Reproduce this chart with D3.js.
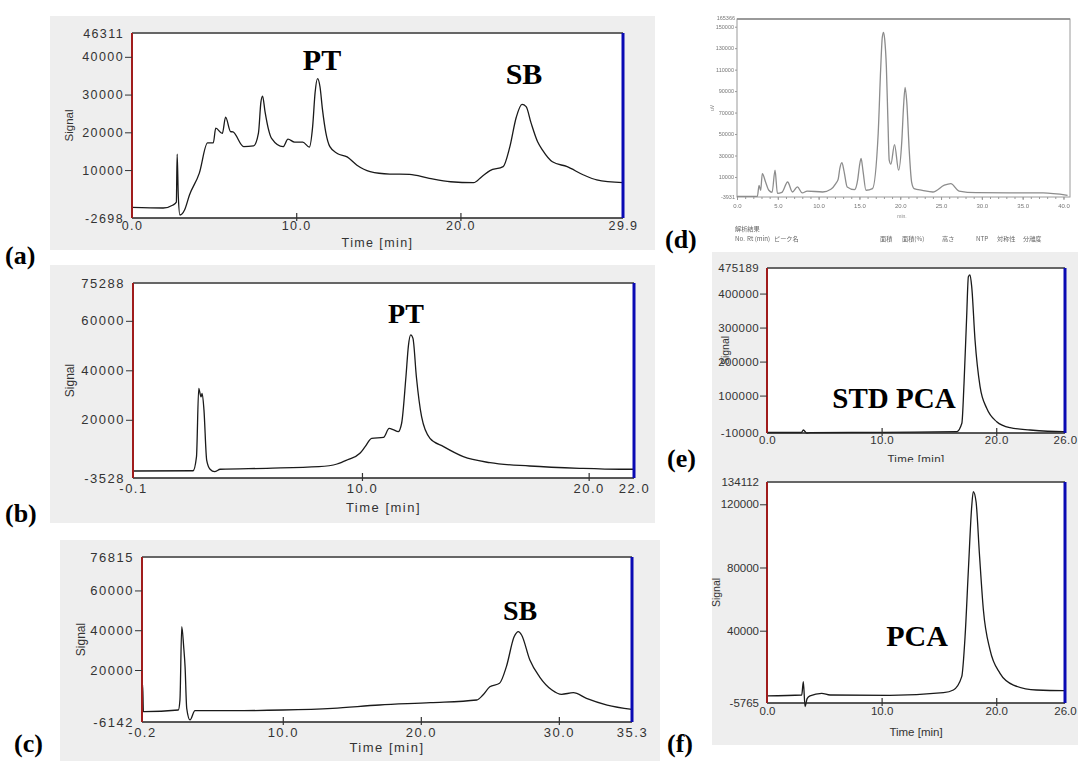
<!DOCTYPE html>
<html>
<head>
<meta charset="utf-8">
<script src="https://cdn.jsdelivr.net/npm/d3@7"></script>
<style>
body { margin: 0; background: #fff; }
svg { display: block; }
</style>
</head>
<body>
<script>
// values (time in min, signal in counts)
var aTime = [0, 1.9, 2.5, 2.7, 2.75, 2.82, 2.92, 3.2, 3.5, 4.1, 4.6, 4.95, 5.1, 5.5, 5.7, 6.0, 6.15, 6.8, 7.4, 7.7, 7.85, 7.95, 8.1, 8.3, 8.5, 9.2, 9.5, 9.9, 10.4, 10.8, 11.0, 11.15, 11.3, 11.45, 11.6, 11.8, 12.05, 12.5, 13.1, 13.7, 14.5, 15.7, 16.9, 18.1, 19.4, 20.8, 21.3, 21.8, 22.6, 23.0, 23.4, 23.75, 24.0, 24.3, 24.7, 25.0, 25.6, 26.5, 27.5, 28.3, 29.9];
var aSignal = [100, -50, 750, 1500, 14200, 3000, -1900, -580, 3400, 9200, 17200, 17200, 21100, 19700, 24000, 20200, 20100, 16200, 16400, 19800, 28000, 29600, 25500, 21000, 18400, 16200, 18200, 17400, 17400, 16100, 21500, 30500, 34200, 32000, 26000, 20000, 16200, 14400, 13500, 11300, 9600, 8950, 8850, 7800, 6900, 6650, 8250, 9850, 10900, 16000, 24000, 27400, 26800, 22500, 17500, 15300, 12200, 10900, 8700, 7400, 6650];

var bTime = [-0.1, 2.55, 2.7, 2.8, 2.9, 2.95, 3.03, 3.15, 3.3, 3.5, 3.75, 5.8, 8.1, 8.9, 9.34, 9.91, 10.14, 10.43, 10.95, 11.2, 11.4, 11.6, 11.75, 11.94, 12.05, 12.15, 12.25, 12.4, 12.63, 13.0, 13.6, 14.47, 15.65, 17.4, 19.6, 21.4, 22.0];
var bSignal = [-700, -600, 5000, 32700, 29300, 30700, 24000, 3700, 0, -980, 0, 400, 1040, 2130, 3750, 6450, 9140, 12500, 12900, 16500, 15900, 15200, 18600, 37400, 50000, 54300, 52900, 37400, 21250, 12500, 9140, 5100, 2670, 1320, 390, 0, 0];

var cTime = [-0.2, -0.15, -0.1, -0.05, 2.43, 2.55, 2.68, 2.82, 2.92, 3.04, 3.28, 3.64, 6.4, 10.0, 13.6, 17.0, 20.7, 24.05, 24.5, 25.0, 25.7, 26.2, 26.76, 27.07, 27.3, 27.9, 28.6, 29.5, 30.2, 31.05, 32.0, 33.5, 35.3];
var cSignal = [-960, 12500, -900, -960, -110, 5000, 41800, 31700, 21700, 750, -5100, -460, -460, -110, 750, 2400, 3560, 4920, 7430, 11600, 13300, 21700, 36700, 39300, 37600, 25000, 16600, 9950, 7780, 8590, 5770, 2400, 240];

var dTime = [0, 2.5, 2.7, 2.9, 3.1, 3.5, 3.9, 4.3, 4.66, 4.95, 5.5, 6.2, 6.8, 7.4, 8.0, 8.6, 10.5, 11.5, 12.1, 12.4, 12.6, 12.85, 13.1, 13.5, 14.4, 14.8, 15.0, 15.2, 15.45, 15.8, 16.6, 17.3, 17.6, 17.8, 17.95, 18.1, 18.3, 18.5, 18.65, 18.85, 19.3, 19.8, 20.2, 20.4, 20.6, 20.8, 21.1, 21.4, 21.7, 22.7, 24.0, 25.4, 26.2, 27.2, 29.3, 37.5, 40.5];
var dSignal = [-8000, -8000, 2250, -2400, 13200, 5300, -2400, -4300, 16250, -5200, -4300, 5300, -4000, 700, -4900, -3100, -4000, -1500, 3800, 8000, 18000, 23400, 16000, 700, -1800, 8000, 20000, 27200, 15000, -2400, -800, 50800, 110000, 140000, 144800, 138000, 112700, 60000, 25600, 21900, 40200, 16300, 44300, 75000, 93400, 80000, 34900, 5000, -800, -2400, -4000, 2300, 3800, -3100, -4600, -4900, -7100];

var eTime = [0, 3.0, 3.17, 3.46, 3.75, 10, 16.55, 17.0, 17.19, 17.42, 17.57, 17.71, 17.86, 18.15, 18.59, 19.17, 20.04, 21.2, 22.95, 25.85, 26.0];
var eSignal = [-8500, -8500, -1200, -10000, -9000, -8000, -6200, 18500, 136000, 332000, 449700, 454700, 420300, 263500, 126200, 62600, 23200, 5600, -1200, -6200, -6200];

var fTime = [0, 3.03, 3.17, 3.32, 3.5, 3.75, 4.77, 5.5, 10.7, 15.4, 16.26, 16.99, 17.28, 17.57, 17.86, 18.0, 18.24, 18.53, 18.88, 19.46, 20.33, 21.5, 23.5, 25.85, 26.0];
var fSignal = [-1300, -700, 7700, -8000, -3000, -1300, 370, -700, -900, 750, 2460, 10900, 36200, 78400, 118500, 128000, 121600, 89000, 53100, 27800, 13000, 5600, 2460, 2040, 2040];

// tick values and labels
var aXTicks = [0, 10, 20, 29.9], aXLabels = ["0.0", "10.0", "20.0", "29.9"];
var aYTicks = [10000, 20000, 30000, 40000];
var bXTicks = [-0.1, 10, 20, 22], bXLabels = ["-0.1", "10.0", "20.0", "22.0"];
var bYTicks = [20000, 40000, 60000];
var cXTicks = [-0.2, 10, 20, 30, 35.3], cXLabels = ["-0.2", "10.0", "20.0", "30.0", "35.3"];
var cYTicks = [20000, 40000, 60000];
var dXTicks = [0, 5, 10, 15, 20, 25, 30, 35, 40];
var dYTicks = [10000, 30000, 50000, 70000, 90000, 110000, 130000, 150000];
var eXTicks = [0, 10, 20, 26], eXLabels = ["0.0", "10.0", "20.0", "26.0"];
var eYTicks = [100000, 200000, 300000, 400000];
var fXTicks = [0, 10, 20, 26], fXLabels = ["0.0", "10.0", "20.0", "26.0"];
var fYTicks = [40000, 80000, 120000];

var svg = d3.select("body").append("svg").attr("width", 1078).attr("height", 761);

function chrom(c) {
	var g = svg.append("g");
	var p = c.plot; // left, top, right, bottom

	g.append("rect").attr("x", c.box[0]).attr("y", c.box[1])
		.attr("width", c.box[2]).attr("height", c.box[3]).attr("fill", "#eeeeee");

	var x = d3.scaleLinear().domain(c.xDomain).range([p[0], p[2]]);
	var y = d3.scaleLinear().domain(c.yDomain).range([p[3], p[1]]);

	g.append("rect").attr("x", p[0]).attr("y", p[1])
		.attr("width", p[2] - p[0]).attr("height", p[3] - p[1]).attr("fill", "#fff");

	var line = d3.line().x(function (d) { return x(d[0]); }).y(function (d) { return y(d[1]); })
		.curve(d3.curveMonotoneX);
	g.append("path").datum(d3.zip(c.time, c.signal))
		.attr("d", line).attr("fill", "none").attr("stroke", "#1a1a1a").attr("stroke-width", 1.3);

	// frame
	g.append("line").attr("x1", p[0]).attr("x2", p[2]).attr("y1", p[1]).attr("y2", p[1])
		.attr("stroke", "#666").attr("stroke-width", 2);
	g.append("line").attr("x1", p[0]).attr("x2", p[2]).attr("y1", p[3]).attr("y2", p[3])
		.attr("stroke", "#222").attr("stroke-width", 1.6);
	g.append("line").attr("x1", p[0]).attr("x2", p[0]).attr("y1", p[1]).attr("y2", p[3])
		.attr("stroke", "#a01c1c").attr("stroke-width", 2);
	g.append("line").attr("x1", p[2]).attr("x2", p[2]).attr("y1", p[1]).attr("y2", p[3])
		.attr("stroke", "#0a0ab4").attr("stroke-width", 3);

	// y axis
	var yAx = g.append("g").attr("transform", "translate(" + p[0] + ",0)")
		.call(d3.axisLeft(y).tickValues(c.yTicks.concat(c.yDomain)).tickSize(7).tickPadding(1)
			.tickFormat(function (d) { return String(d); }));
	yAx.select(".domain").remove();
	yAx.selectAll(".tick line").attr("stroke", "#333")
		.filter(function (d) { return c.yDomain.indexOf(d) >= 0; }).remove();
	yAx.attr("font-family", "'Liberation Sans', Arial, sans-serif").attr("font-size", c.fs);
	yAx.selectAll("text").attr("fill", "#333").attr("letter-spacing", c.ls);

	// x axis
	var xAx = g.append("g").attr("transform", "translate(0," + p[3] + ")")
		.call(d3.axisBottom(x).tickValues(c.xTicks).tickSize(0).tickPadding(c.xPad)
			.tickFormat(function (d, i) { return c.xLabels[i]; }));
	xAx.select(".domain").remove();
	xAx.selectAll(".tick line").attr("stroke", "#333").attr("stroke-width", 1.2)
		.attr("y1", -5).attr("y2", 3)
		.filter(function (d, i) { return i === 0 || i === c.xTicks.length - 1; }).remove();
	xAx.attr("font-family", "'Liberation Sans', Arial, sans-serif").attr("font-size", c.fs);
	xAx.selectAll("text").attr("fill", "#333").attr("letter-spacing", c.ls);

	g.append("text").attr("x", (p[0] + p[2]) / 2).attr("y", c.timeY)
		.attr("text-anchor", "middle").attr("font-family", "'Liberation Sans', Arial, sans-serif")
		.attr("font-size", c.fs).attr("letter-spacing", c.ls).attr("fill", "#333").text("Time [min]");

	g.append("text").attr("transform", "translate(" + c.sigX + "," + (p[1] + p[3]) / 2 + ") rotate(-90)")
		.attr("text-anchor", "middle").attr("font-family", "'Liberation Sans', Arial, sans-serif")
		.attr("font-size", c.fs - 1).attr("fill", "#333").text("Signal");

	c.peaks.forEach(function (pk) {
		g.append("text").attr("x", x(pk[1])).attr("y", y(pk[2]))
			.attr("text-anchor", "middle").attr("font-family", "'Liberation Serif', 'Times New Roman', serif")
			.attr("font-weight", "bold").attr("font-size", c.peakSize).attr("fill", "#000").text(pk[0]);
	});
}

chrom({
	box: [50, 16, 605, 234], plot: [132, 33, 623, 218],
	xDomain: [0, 29.9], yDomain: [-2698, 46311],
	time: aTime, signal: aSignal, xTicks: aXTicks, xLabels: aXLabels, yTicks: aYTicks,
	fs: 12.5, ls: 1.4, xPad: 3, timeY: 247, sigX: 73, peakSize: 30,
	peaks: [["PT", 11.57, 36500], ["SB", 23.87, 32800]]
});
chrom({
	box: [50, 265, 605, 258], plot: [133, 283, 634, 478],
	xDomain: [-0.1, 22.0], yDomain: [-3528, 75288],
	time: bTime, signal: bSignal, xTicks: bXTicks, xLabels: bXLabels, yTicks: bYTicks,
	fs: 13, ls: 1.5, xPad: 6, timeY: 512, sigX: 74, peakSize: 28,
	peaks: [["PT", 11.94, 59100]]
});
chrom({
	box: [60, 540, 600, 221], plot: [142, 557, 632, 722],
	xDomain: [-0.2, 35.3], yDomain: [-6142, 76815],
	time: cTime, signal: cSignal, xTicks: cXTicks, xLabels: cXLabels, yTicks: cYTicks,
	fs: 13, ls: 1.5, xPad: 6, timeY: 752, sigX: 85, peakSize: 28,
	peaks: [["SB", 27.19, 45100]]
});
chrom({
	box: [712, 252, 366, 210], plot: [767, 268, 1065, 433],
	xDomain: [0, 26], yDomain: [-10000, 475189],
	time: eTime, signal: eSignal, xTicks: eXTicks, xLabels: eXLabels, yTicks: eYTicks,
	fs: 11.5, ls: 0.4, xPad: 3, timeY: 463, sigX: 729, peakSize: 29,
	peaks: [["STD PCA", 11.08, 63500]]
});
chrom({
	box: [712, 462, 366, 283], plot: [767, 482, 1065, 703],
	xDomain: [0, 26], yDomain: [-5765, 134112],
	time: fTime, signal: fSignal, xTicks: fXTicks, xLabels: fXLabels, yTicks: fYTicks,
	fs: 11.5, ls: 0, xPad: 4, timeY: 736, sigX: 720, peakSize: 30,
	peaks: [["PCA", 13.09, 30300]]
});

// (d) scanned chromatogram
(function () {
	var defs = svg.append("defs");
	defs.append("filter").attr("id", "scan").append("feGaussianBlur").attr("stdDeviation", 0.35);
	var g = svg.append("g").attr("filter", "url(#scan)");
	var p = [737, 19, 1070, 197];
	var x = d3.scaleLinear().domain([0, 40.8]).range([p[0], p[2]]);
	var y = d3.scaleLinear().domain([-8667, 157187]).range([p[3], p[1]]);

	g.append("rect").attr("x", p[0]).attr("y", p[1]).attr("width", p[2] - p[0]).attr("height", p[3] - p[1])
		.attr("fill", "none").attr("stroke", "#9a9a9a").attr("stroke-width", 1);
	g.append("line").attr("x1", p[0]).attr("x2", p[2]).attr("y1", p[1]).attr("y2", p[1])
		.attr("stroke", "#8a8a8a").attr("stroke-width", 1.6);

	var line = d3.line().x(function (d) { return x(d[0]); }).y(function (d) { return y(d[1]); })
		.curve(d3.curveMonotoneX);
	g.append("path").datum(d3.zip(dTime, dSignal)).attr("d", line)
		.attr("fill", "none").attr("stroke", "#8c8c8c").attr("stroke-width", 1.3);

	var font = "'Liberation Sans', Arial, sans-serif";
	var xMinor = g.append("g").attr("transform", "translate(0," + p[3] + ")")
		.call(d3.axisBottom(x).tickValues(d3.range(0, 41, 1)).tickSize(2).tickFormat(""));
	xMinor.select(".domain").remove();
	xMinor.selectAll("line").attr("stroke", "#999");
	var xAx = g.append("g").attr("transform", "translate(0," + p[3] + ")")
		.call(d3.axisBottom(x).tickValues(dXTicks).tickSize(3).tickPadding(4)
			.tickFormat(d3.format(".1f")));
	xAx.select(".domain").remove();
	xAx.attr("font-family", font).attr("font-size", 6);
	xAx.selectAll("line").attr("stroke", "#999");
	xAx.selectAll("text").attr("fill", "#777");

	var yAx = g.append("g").attr("transform", "translate(" + p[0] + ",0)")
		.call(d3.axisLeft(y).tickValues(dYTicks).tickSize(2).tickPadding(1).tickFormat(d3.format("d")));
	yAx.select(".domain").remove();
	yAx.attr("font-family", font).attr("font-size", 5.5);
	yAx.selectAll("line").attr("stroke", "#999");
	yAx.selectAll("text").attr("fill", "#777");

	g.append("text").attr("x", p[0] - 2).attr("y", p[1]).attr("dy", "0.1em").attr("text-anchor", "end")
		.attr("font-family", font).attr("font-size", 5.5).attr("fill", "#777").text("165366");
	g.append("text").attr("x", p[0] - 2).attr("y", p[3]).attr("dy", "0.32em").attr("text-anchor", "end")
		.attr("font-family", font).attr("font-size", 5.5).attr("fill", "#777").text("-3931");
	g.append("text").attr("transform", "translate(714,108) rotate(-90)").attr("text-anchor", "middle")
		.attr("font-family", font).attr("font-size", 5).attr("fill", "#888").text("uV");
	g.append("text").attr("x", 902).attr("y", 218).attr("text-anchor", "middle")
		.attr("font-family", font).attr("font-size", 5).attr("fill", "#888").text("min.");

	var jp = "'Noto Sans CJK JP', sans-serif";
	var rows = [
		["解析結果", 735, 231],
		["No.", 735, 241], ["Rt (min)", 747, 241], ["ピーク名", 774, 241],
		["面積", 880, 241], ["面積(%)", 902, 241], ["高さ", 942, 241],
		["NTP", 976, 241], ["対称性", 997, 241], ["分離度", 1023, 241]
	];
	rows.forEach(function (r) {
		g.append("text").attr("x", r[1]).attr("y", r[2]).attr("font-family", jp)
			.attr("font-size", 6.2).attr("fill", "#666").text(r[0]);
	});
})();

// panel letters
var letters = [["(a)", 5, 264], ["(b)", 5, 522], ["(c)", 14, 752], ["(d)", 665, 248], ["(e)", 667, 467], ["(f)", 667, 752]];
svg.selectAll("text.letter").data(letters).enter().append("text").attr("class", "letter")
	.attr("x", function (d) { return d[1]; }).attr("y", function (d) { return d[2]; })
	.attr("font-family", "'Liberation Serif', 'Times New Roman', serif").attr("font-weight", "bold")
	.attr("font-size", 26).attr("fill", "#000").text(function (d) { return d[0]; });
</script>
</body>
</html>
